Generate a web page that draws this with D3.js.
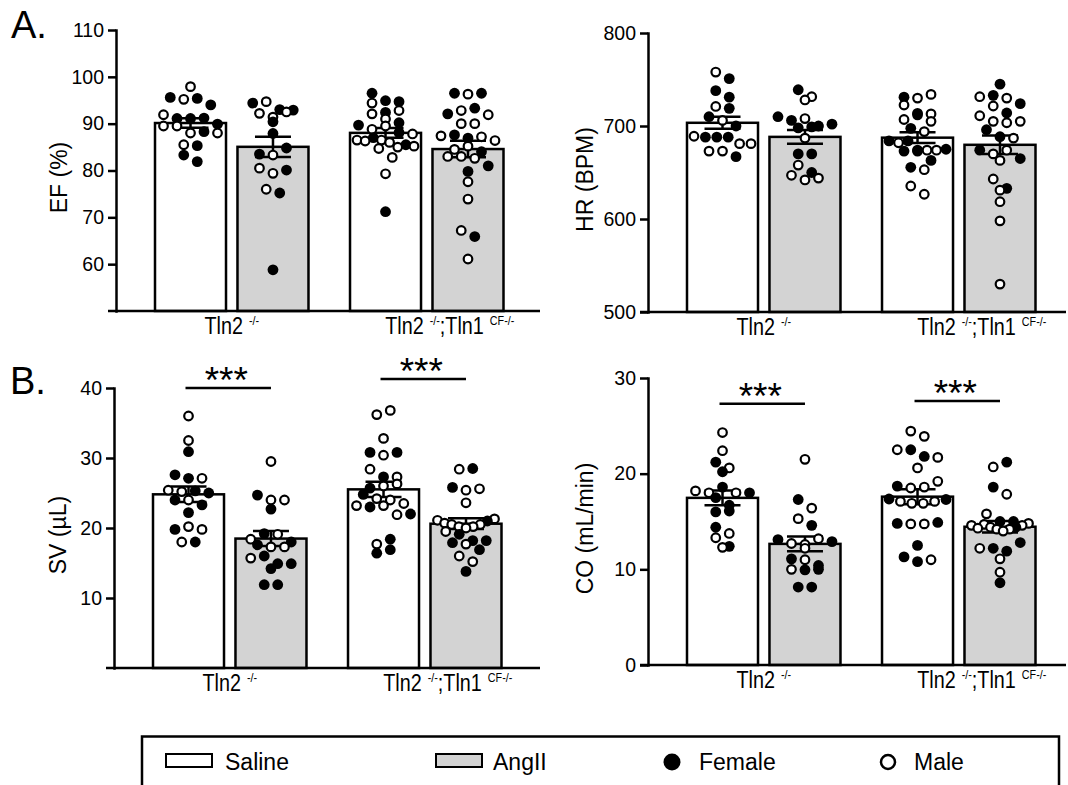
<!DOCTYPE html>
<html>
<head>
<meta charset="utf-8">
<script src="https://cdn.jsdelivr.net/npm/d3@7"></script>
<style>
  body { margin: 0; background: #fff; }
  svg text { font-family: "Liberation Sans", Arial, sans-serif; fill: #000; }
</style>
</head>
<body>
<svg id="fig" width="1068" height="785"></svg>
<script>
// ---- categories ----
const groups = ["Tln2", "Tln2;Tln1"];
const treatments = ["Saline", "AngII"];
// category labels: [text, isSuperscript]
const groupLabels = [
  [["Tln2", 0], ["-/-", 1]],
  [["Tln2", 0], ["-/-", 1], [";Tln1", 0], ["CF-/-", 1]]
];

// ---- individual animals: [value, sex] (F = female, M = male) ----
// Ejection fraction (%)
const efSalineTln2 = [[97.9,"M"],[95.6,"F"],[95.2,"M"],[95.4,"F"],[94.0,"F"],[91.9,"M"],[91.1,"F"],[91.1,"F"],[91.2,"F"],[89.9,"F"],[89.5,"M"],[89.5,"M"],[88.0,"M"],[88.3,"F"],[88.0,"M"],[85.5,"M"],[85.3,"F"],[83.3,"F"],[81.9,"F"]];
const efAngIITln2 = [[94.4,"F"],[94.7,"M"],[93.0,"F"],[92.2,"M"],[92.9,"F"],[91.4,"M"],[92.5,"M"],[90.4,"F"],[87.9,"F"],[83.5,"F"],[83.3,"M"],[84.8,"F"],[80.5,"M"],[79.4,"M"],[80.1,"F"],[76.0,"M"],[75.2,"F"],[58.8,"F"]];
const efSalineDko = [[96.5,"F"],[94.4,"M"],[94.9,"F"],[94.7,"F"],[92.4,"F"],[92.1,"M"],[92.8,"M"],[91.0,"M"],[89.7,"F"],[88.8,"M"],[89.5,"M"],[90.2,"F"],[88.1,"F"],[87.8,"M"],[86.5,"M"],[86.3,"M"],[87.0,"F"],[86.5,"M"],[86.0,"M"],[85.0,"M"],[85.5,"F"],[84.7,"M"],[85.2,"M"],[82.8,"M"],[79.3,"M"],[71.2,"F"]];
const efAngIIDko = [[96.5,"F"],[96.3,"M"],[96.5,"F"],[92.1,"F"],[92.8,"M"],[93.3,"F"],[91.9,"M"],[90.0,"M"],[90.0,"M"],[87.4,"M"],[87.6,"F"],[86.9,"F"],[87.2,"M"],[86.4,"M"],[84.5,"M"],[85.2,"M"],[84.0,"F"],[83.0,"M"],[83.0,"M"],[82.6,"M"],[81.0,"F"],[79.8,"F"],[77.6,"M"],[73.9,"M"],[67.2,"M"],[65.9,"F"],[61.1,"M"]];

// Heart rate (BPM)
const hrSalineTln2 = [[758,"M"],[751,"F"],[738,"F"],[731,"F"],[721,"M"],[719,"F"],[710,"F"],[706,"M"],[700,"F"],[689,"M"],[688,"F"],[688,"F"],[688,"F"],[681,"M"],[681,"M"],[673,"M"],[673,"M"],[667,"F"]];
const hrAngIITln2 = [[739,"F"],[728,"M"],[731.5,"M"],[710,"F"],[706,"F"],[708,"M"],[700,"F"],[698,"F"],[702,"F"],[699,"F"],[687,"M"],[670,"F"],[670,"F"],[658,"M"],[647,"M"],[642,"M"],[644,"M"],[650,"F"]];
const hrSalineDko = [[731,"F"],[730,"M"],[734,"M"],[722.6,"M"],[713.6,"M"],[707,"M"],[712,"F"],[713,"M"],[705,"M"],[697.5,"F"],[694,"M"],[684,"F"],[682,"M"],[684,"F"],[674,"M"],[674,"M"],[673,"F"],[673,"F"],[674,"M"],[675,"F"],[663,"F"],[655.6,"F"],[653,"M"],[635.5,"M"],[626.6,"M"]];
const hrAngIIDko = [[745,"F"],[731.5,"M"],[733,"F"],[730,"M"],[724,"F"],[721.5,"M"],[714,"F"],[711,"M"],[705,"M"],[703.5,"M"],[705,"M"],[696,"F"],[688.5,"F"],[687,"M"],[674,"F"],[670,"M"],[674,"M"],[665,"F"],[663,"M"],[643,"M"],[633,"F"],[631,"M"],[618.6,"M"],[598,"M"],[530,"M"]];

// Stroke volume (µL)
const svSalineTln2 = [[36.0,"M"],[32.5,"M"],[30.9,"F"],[27.6,"F"],[27.1,"F"],[27.1,"M"],[25.4,"M"],[25.2,"M"],[25.3,"F"],[25.0,"F"],[24.0,"F"],[24.0,"M"],[23.3,"F"],[22.2,"F"],[19.8,"F"],[20.2,"M"],[19.8,"M"],[18.0,"M"],[18.0,"F"]];
const svAngIITln2 = [[29.5,"M"],[24.7,"F"],[24.0,"M"],[24.0,"M"],[22.7,"F"],[18.4,"M"],[19.2,"F"],[19.1,"M"],[18.0,"F"],[17.6,"F"],[17.3,"M"],[17.3,"M"],[15.7,"M"],[16.0,"F"],[14.9,"F"],[14.2,"F"],[14.9,"F"],[11.9,"F"],[11.9,"F"]];
const svSalineDko = [[36.2,"M"],[36.8,"M"],[32.8,"M"],[30.8,"F"],[30.4,"M"],[30.8,"F"],[28.4,"M"],[27.3,"F"],[27.3,"M"],[25.7,"F"],[26.0,"M"],[26.3,"M"],[24.8,"F"],[24.2,"M"],[24.0,"M"],[23.2,"M"],[23.0,"F"],[23.2,"M"],[23.5,"M"],[21.9,"M"],[22.0,"F"],[17.7,"M"],[18.4,"F"],[16.4,"F"],[16.9,"F"]];
const svAngIIDko = [[28.4,"M"],[28.5,"F"],[25.8,"F"],[25.4,"M"],[25.6,"M"],[23.6,"M"],[21.1,"M"],[20.7,"M"],[20.5,"M"],[20.2,"M"],[20.0,"M"],[20.2,"M"],[20.5,"M"],[21.0,"F"],[21.3,"M"],[19.5,"M"],[19.1,"F"],[18.2,"F"],[17.9,"F"],[17.7,"M"],[18.2,"F"],[16.9,"F"],[16.0,"M"],[15.2,"M"],[13.8,"F"]];

// Cardiac output (mL/min)
const coSalineTln2 = [[24.3,"M"],[22.4,"M"],[21.2,"F"],[20.2,"F"],[20.6,"M"],[18.2,"M"],[18.0,"M"],[18.6,"F"],[18.0,"M"],[17.5,"F"],[18.0,"F"],[16.7,"F"],[16.0,"F"],[16.1,"F"],[14.4,"F"],[13.3,"M"],[13.75,"M"],[12.3,"M"],[12.4,"F"]];
const coAngIITln2 = [[21.5,"M"],[17.3,"F"],[16.4,"M"],[15.3,"M"],[14.6,"F"],[13.1,"F"],[12.7,"M"],[12.2,"M"],[12.6,"M"],[13.2,"M"],[12.9,"F"],[11.1,"F"],[11.0,"M"],[10.4,"F"],[10.0,"M"],[9.95,"F"],[10.0,"F"],[8.15,"F"],[8.15,"F"]];
const coSalineDko = [[24.45,"M"],[23.9,"M"],[22.5,"M"],[22.5,"F"],[21.8,"F"],[21.7,"M"],[20.6,"M"],[18.7,"F"],[18.5,"M"],[18.6,"M"],[19.2,"M"],[17.35,"F"],[17.1,"M"],[16.9,"M"],[16.9,"M"],[17.1,"M"],[17.3,"F"],[14.8,"F"],[14.75,"M"],[14.75,"M"],[14.9,"F"],[12.5,"F"],[11.3,"F"],[10.8,"F"],[11.0,"M"]];
const coAngIIDko = [[20.7,"M"],[21.2,"F"],[18.6,"F"],[17.85,"M"],[15.8,"M"],[14.6,"M"],[14.3,"M"],[15.0,"F"],[14.7,"M"],[14.4,"M"],[14.2,"M"],[14.0,"M"],[14.2,"M"],[14.4,"F"],[14.6,"M"],[14.8,"M"],[15.0,"F"],[12.2,"M"],[12.2,"F"],[11.1,"M"],[11.9,"F"],[12.8,"F"],[9.7,"M"],[8.6,"F"]];

// ---- axes ----
const efDomain = [50, 110], efTicks = [60, 70, 80, 90, 100, 110];
const hrDomain = [500, 800], hrTicks = [500, 600, 700, 800];
const svDomain = [0, 40],   svTicks = [10, 20, 30, 40];
const coDomain = [0, 30],   coTicks = [0, 10, 20, 30];
// height (in data units) of the Saline vs AngII comparison bars, per genotype
const svSigLevels = [40.0, 41.3];
const coSigLevels = [27.3, 27.6];
const sigText = "***";

const legendItems = ["Saline", "AngII", "Female", "Male"];

// ---- drawing ----
const svg = d3.select("#fig");
const BAR_FILL = { Saline: "#ffffff", AngII: "#d3d3d3" };
const LW = 2.5;
const R_FILLED = 5.4, R_OPEN = 4.3, OPEN_STROKE = 2.2;

const panels = [
  { title: "EF (%)", series: [efSalineTln2, efAngIITln2, efSalineDko, efAngIIDko], domain: efDomain, ticks: efTicks,
    x0: 116, xEnd: 540, yTop: 30, yBottom: 311, titleX: 67, sig: null },
  { title: "HR (BPM)", series: [hrSalineTln2, hrAngIITln2, hrSalineDko, hrAngIIDko], domain: hrDomain, ticks: hrTicks,
    x0: 648, xEnd: 1066, yTop: 33, yBottom: 312, titleX: 593, sig: null },
  { title: "SV (µL)", series: [svSalineTln2, svAngIITln2, svSalineDko, svAngIIDko], domain: svDomain, ticks: svTicks,
    x0: 114, xEnd: 540, yTop: 388, yBottom: 668, titleX: 66, sig: svSigLevels },
  { title: "CO (mL/min)", series: [coSalineTln2, coAngIITln2, coSalineDko, coAngIIDko], domain: coDomain, ticks: coTicks,
    x0: 648, xEnd: 1066, yTop: 378, yBottom: 665, titleX: 593, sig: coSigLevels }
];

// spread points that share a vertical row, keeping each at its own value
function swarm(points, y, cx, halfWidth) {
  const pts = points.map((d, i) => ({ v: d[0], sex: d[1], i, py: y(d[0]) }))
    .sort((a, b) => a.py - b.py || a.i - b.i);
  const rows = [];
  let cur = null;
  pts.forEach(p => {
    if (!cur || p.py - cur.top > 9.5) { cur = { top: p.py, items: [] }; rows.push(cur); }
    cur.items.push(p);
  });
  rows.forEach(r => {
    r.items.sort((a, b) => a.i - b.i);
    const k = r.items.length;
    const step = k > 1 ? Math.min(13.5, (2 * halfWidth) / (k - 1)) : 0;
    r.items.forEach((p, j) => { p.px = cx + (j - (k - 1) / 2) * step; });
  });
  return pts;
}

function drawCategoryLabel(g, cx, y, parts, shift) {
  const t = g.append("g").attr("transform", `translate(${cx + shift},${y}) scale(0.86,1)`)
    .append("text").attr("text-anchor", "middle").attr("font-size", 23);
  let raised = false;
  parts.forEach(([txt, sup]) => {
    const ts = t.append("tspan").text(txt);
    if (sup && !raised) { ts.attr("font-size", 12.5).attr("dy", -9).attr("dx", 7); raised = true; }
    else if (!sup && raised) { ts.attr("dy", 9); raised = false; }
  });
}

panels.forEach(p => {
  const g = svg.append("g");
  const y = d3.scaleLinear().domain(p.domain).range([p.yBottom, p.yTop]);
  const outer = d3.scaleBand().domain(groups).range([p.x0, p.x0 + 426.5]).paddingInner(0.213).paddingOuter(0.2);
  const inner = d3.scaleBand().domain(treatments).range([0, outer.bandwidth()]).paddingInner(0.139).paddingOuter(0);
  const bw = inner.bandwidth();

  const cells = [];
  groups.forEach((gr, gi) => treatments.forEach((tr, ti) => {
    const vals = p.series[gi * 2 + ti];
    const values = vals.map(d => d[0]);
    const mean = d3.mean(values);
    const sem = d3.deviation(values) / Math.sqrt(values.length);
    cells.push({ gr, tr, vals, mean, sem, x: outer(gr) + inner(tr), cx: outer(gr) + inner(tr) + bw / 2 });
  }));

  // bars
  g.selectAll("rect.bar").data(cells).join("rect")
    .attr("x", d => d.x).attr("width", bw)
    .attr("y", d => y(d.mean)).attr("height", d => p.yBottom - y(d.mean))
    .attr("fill", d => BAR_FILL[d.tr]).attr("stroke", "#000").attr("stroke-width", LW);

  // mean ± SEM
  const cap = 18;
  cells.forEach(d => {
    const eg = g.append("g").attr("stroke", "#000").attr("stroke-width", LW);
    eg.append("line").attr("x1", d.cx).attr("x2", d.cx).attr("y1", y(d.mean - d.sem)).attr("y2", y(d.mean + d.sem));
    eg.append("line").attr("x1", d.cx - cap).attr("x2", d.cx + cap).attr("y1", y(d.mean + d.sem)).attr("y2", y(d.mean + d.sem));
    eg.append("line").attr("x1", d.cx - cap).attr("x2", d.cx + cap).attr("y1", y(d.mean - d.sem)).attr("y2", y(d.mean - d.sem));
  });

  // individual animals
  cells.forEach(d => {
    const pts = swarm(d.vals, y, d.cx, bw / 2 - 7);
    g.append("g").selectAll("circle").data(pts).join("circle")
      .attr("cx", q => q.px).attr("cy", q => q.py)
      .attr("r", q => q.sex === "F" ? R_FILLED : R_OPEN)
      .attr("fill", q => q.sex === "F" ? "#000" : "#fff")
      .attr("stroke", "#000").attr("stroke-width", q => q.sex === "F" ? 0 : OPEN_STROKE);
  });

  // axes
  const ax = g.append("g").attr("transform", `translate(${p.x0},0)`)
    .call(d3.axisLeft(y).tickValues(p.ticks).tickSize(8).tickPadding(4).tickSizeOuter(0));
  ax.select(".domain").attr("stroke-width", LW).attr("stroke-linecap", "square");
  ax.selectAll(".tick line").attr("stroke-width", LW);
  ax.selectAll(".tick text").attr("font-size", 19.5).attr("font-family", "Liberation Sans, Arial, sans-serif");
  g.append("line").attr("x1", p.x0 - 8).attr("x2", p.xEnd).attr("y1", p.yBottom).attr("y2", p.yBottom)
    .attr("stroke", "#000").attr("stroke-width", LW);

  // axis title
  g.append("text").attr("transform", `translate(${p.titleX},${(p.yTop + p.yBottom) / 2 + 7}) rotate(-90)`)
    .attr("text-anchor", "middle").attr("font-size", 23).text(p.title);

  // genotype labels
  groups.forEach((gr, gi) => {
    const cx = outer(gr) + outer.bandwidth() / 2;
    drawCategoryLabel(g, cx, p.yBottom + 23, groupLabels[gi], gi === 0 ? 0 : 23);
  });

  // significance
  if (p.sig) {
    groups.forEach((gr, gi) => {
      const a = cells[gi * 2].cx - 3, b = cells[gi * 2 + 1].cx;
      const ly = y(p.sig[gi]);
      g.append("line").attr("x1", a).attr("x2", b).attr("y1", ly).attr("y2", ly)
        .attr("stroke", "#000").attr("stroke-width", LW);
      g.append("text").attr("x", (a + b) / 2 - 2).attr("y", ly + 5)
        .attr("text-anchor", "middle").attr("font-size", 37).text(sigText);
    });
  }
});

// panel letters
svg.append("text").attr("x", 11).attr("y", 38).attr("font-size", 38).text("A.");
svg.append("text").attr("x", 10).attr("y", 394).attr("font-size", 38).text("B.");

// legend
const lg = svg.append("g");
lg.append("path").attr("d", "M142,790 V736.5 H1059 V790").attr("fill", "none").attr("stroke", "#000").attr("stroke-width", LW);
lg.append("rect").attr("x", 166).attr("y", 754).attr("width", 46).attr("height", 13)
  .attr("fill", BAR_FILL.Saline).attr("stroke", "#000").attr("stroke-width", 2);
lg.append("text").attr("x", 225).attr("y", 770).attr("font-size", 23).text(legendItems[0]);
lg.append("rect").attr("x", 436).attr("y", 754).attr("width", 46).attr("height", 13)
  .attr("fill", BAR_FILL.AngII).attr("stroke", "#000").attr("stroke-width", 2);
lg.append("text").attr("x", 493).attr("y", 770).attr("font-size", 23).text(legendItems[1]);
lg.append("circle").attr("cx", 672).attr("cy", 762).attr("r", 8.5).attr("fill", "#000");
lg.append("text").attr("x", 699).attr("y", 770).attr("font-size", 23).text(legendItems[2]);
lg.append("circle").attr("cx", 888).attr("cy", 762).attr("r", 7).attr("fill", "#fff").attr("stroke", "#000").attr("stroke-width", 2.5);
lg.append("text").attr("x", 914).attr("y", 770).attr("font-size", 23).text(legendItems[3]);
</script>
</body>
</html>
